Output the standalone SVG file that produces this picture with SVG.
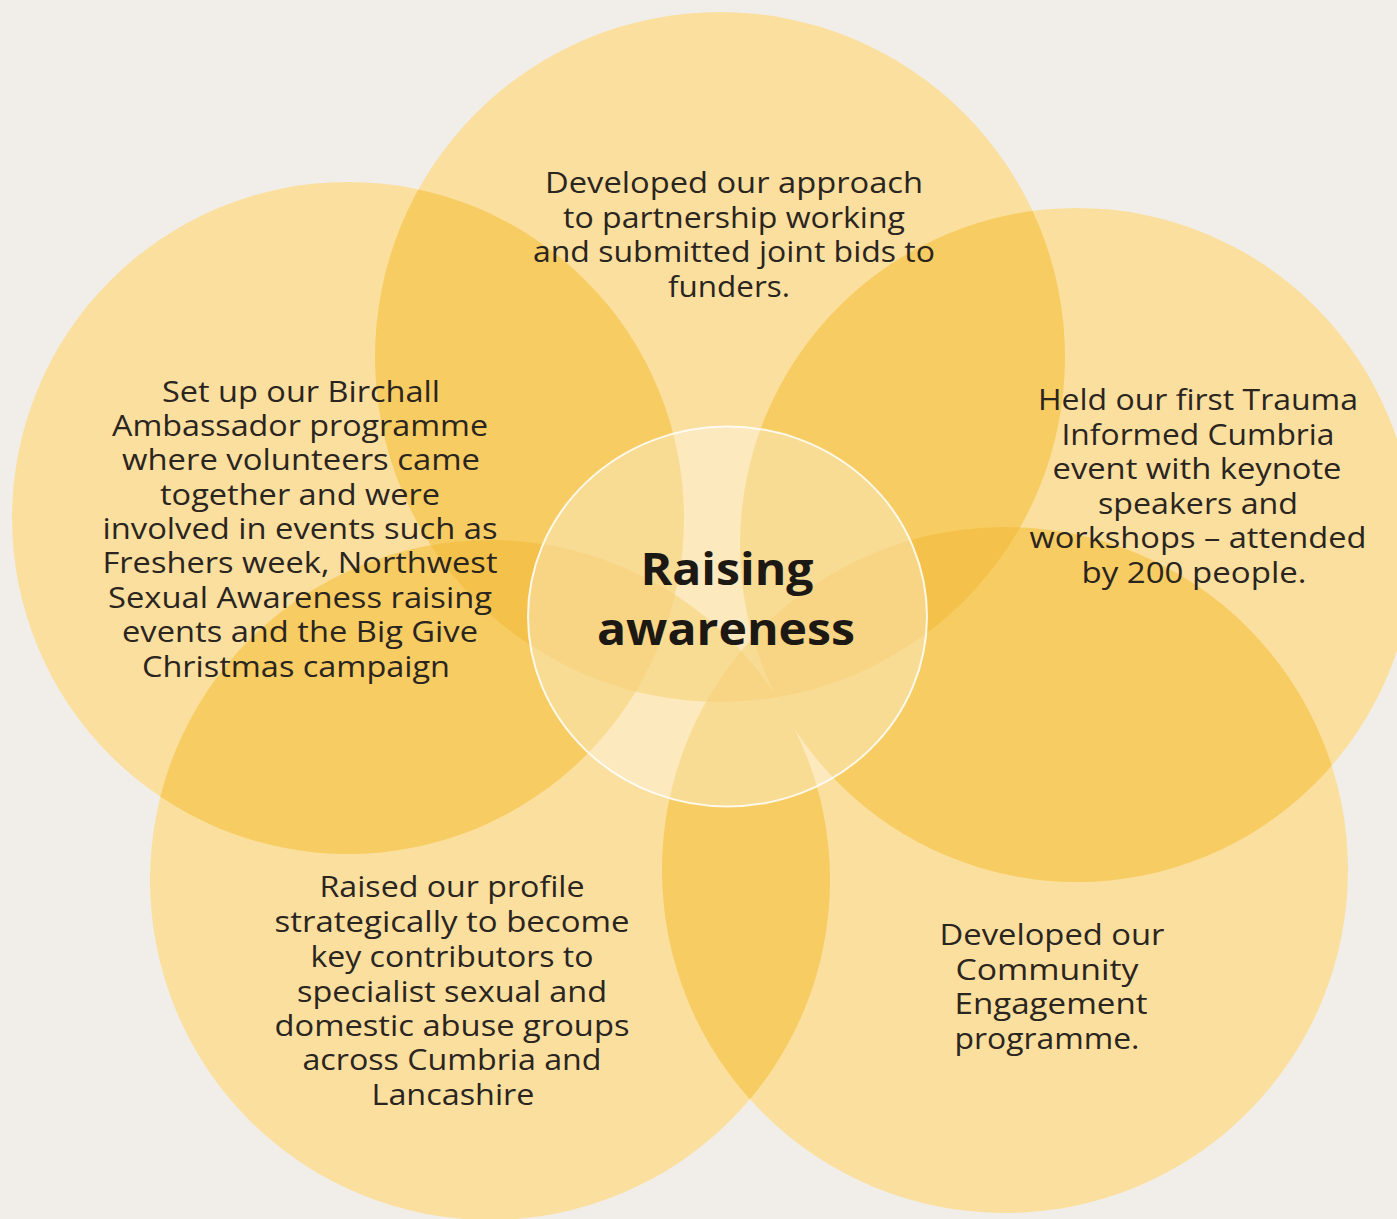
<svg xmlns="http://www.w3.org/2000/svg" width="1397" height="1219" viewBox="0 0 1397 1219">
  <defs>
    <clipPath id="clipT"><circle cx="720" cy="357" r="345"/></clipPath>
    <clipPath id="clipL"><circle cx="348" cy="518" r="336"/></clipPath>
    <clipPath id="clipR"><circle cx="1077" cy="545" r="337"/></clipPath>
    <clipPath id="clipBL"><circle cx="490" cy="880" r="340"/></clipPath>
    <clipPath id="clipBR"><circle cx="1005" cy="870" r="343"/></clipPath>
  </defs>
  <style>
    .petal { fill: #fbdf9e; }
    .two { fill: #f7cc62; }
    .three { fill: #f4c24b; }
    .hub { fill: #ffffff; fill-opacity: 0.32; stroke: #ffffff; stroke-opacity: 0.85; stroke-width: 2; }
    .txt { font-family: "Open Sans", "Liberation Sans", sans-serif; font-size: 29px; fill: #2a251f; text-anchor: middle; }
    .title { font-family: "Open Sans", "Liberation Sans", sans-serif; font-size: 45px; font-weight: 700; fill: #1c1814; text-anchor: middle; }
  </style>
  <rect width="1397" height="1219" fill="#f1eee9"/>

  <!-- five petals -->
  <g id="petal-top"><circle class="petal" cx="720" cy="357" r="345"/></g>
  <g id="petal-left"><circle class="petal" cx="348" cy="518" r="336"/></g>
  <g id="petal-right"><circle class="petal" cx="1077" cy="545" r="337"/></g>
  <g id="petal-bottom-left"><circle class="petal" cx="490" cy="880" r="340"/></g>
  <g id="petal-bottom-right"><circle class="petal" cx="1005" cy="870" r="343"/></g>

  <!-- where two petals overlap -->
  <g id="overlap-two">
    <circle class="two" cx="348" cy="518" r="336" clip-path="url(#clipT)"/>
    <circle class="two" cx="1077" cy="545" r="337" clip-path="url(#clipT)"/>
    <circle class="two" cx="490" cy="880" r="340" clip-path="url(#clipT)"/>
    <circle class="two" cx="1005" cy="870" r="343" clip-path="url(#clipT)"/>
    <circle class="two" cx="490" cy="880" r="340" clip-path="url(#clipL)"/>
    <circle class="two" cx="1005" cy="870" r="343" clip-path="url(#clipR)"/>
    <circle class="two" cx="1005" cy="870" r="343" clip-path="url(#clipBL)"/>
  </g>

  <!-- where three petals overlap -->
  <g id="overlap-three">
    <g clip-path="url(#clipT)"><circle class="three" cx="490" cy="880" r="340" clip-path="url(#clipL)"/></g>
    <g clip-path="url(#clipT)"><circle class="three" cx="1005" cy="870" r="343" clip-path="url(#clipR)"/></g>
    <g clip-path="url(#clipT)"><circle class="three" cx="1005" cy="870" r="343" clip-path="url(#clipBL)"/></g>
  </g>

  <!-- central hub -->
  <g id="hub">
    <ellipse class="hub" cx="727.5" cy="616.5" rx="199.5" ry="190"/>
    <text class="title" x="727" y="585" textLength="173" lengthAdjust="spacingAndGlyphs">Raising</text>
    <text class="title" x="726" y="645" textLength="258" lengthAdjust="spacingAndGlyphs">awareness</text>
  </g>

  <!-- petal labels -->
  <g id="label-top" class="txt">
    <text x="734" y="193" textLength="378" lengthAdjust="spacingAndGlyphs">Developed our approach</text>
    <text x="734" y="228" textLength="342" lengthAdjust="spacingAndGlyphs">to partnership working</text>
    <text x="734" y="262" textLength="402" lengthAdjust="spacingAndGlyphs">and submitted joint bids to</text>
    <text x="729" y="297" textLength="122" lengthAdjust="spacingAndGlyphs">funders.</text>
  </g>

  <g id="label-left" class="txt">
    <text x="301" y="402" textLength="278" lengthAdjust="spacingAndGlyphs">Set up our Birchall</text>
    <text x="300" y="436" textLength="376" lengthAdjust="spacingAndGlyphs">Ambassador programme</text>
    <text x="301" y="470" textLength="358" lengthAdjust="spacingAndGlyphs">where volunteers came</text>
    <text x="300" y="505" textLength="280" lengthAdjust="spacingAndGlyphs">together and were</text>
    <text x="300" y="539" textLength="395" lengthAdjust="spacingAndGlyphs">involved in events such as</text>
    <text x="300" y="573" textLength="395" lengthAdjust="spacingAndGlyphs">Freshers week, Northwest</text>
    <text x="300" y="608" textLength="384" lengthAdjust="spacingAndGlyphs">Sexual Awareness raising</text>
    <text x="300" y="642" textLength="356" lengthAdjust="spacingAndGlyphs">events and the Big Give</text>
    <text x="296" y="677" textLength="308" lengthAdjust="spacingAndGlyphs">Christmas campaign</text>
  </g>

  <g id="label-right" class="txt">
    <text x="1198" y="410" textLength="320" lengthAdjust="spacingAndGlyphs">Held our first Trauma</text>
    <text x="1198" y="445" textLength="273" lengthAdjust="spacingAndGlyphs">Informed Cumbria</text>
    <text x="1197" y="479" textLength="289" lengthAdjust="spacingAndGlyphs">event with keynote</text>
    <text x="1198" y="514" textLength="200" lengthAdjust="spacingAndGlyphs">speakers and</text>
    <text x="1198" y="548" textLength="337" lengthAdjust="spacingAndGlyphs">workshops – attended</text>
    <text x="1194" y="583" textLength="225" lengthAdjust="spacingAndGlyphs">by 200 people.</text>
  </g>

  <g id="label-bottom-left" class="txt">
    <text x="452" y="897" textLength="265" lengthAdjust="spacingAndGlyphs">Raised our profile</text>
    <text x="452" y="932" textLength="355" lengthAdjust="spacingAndGlyphs">strategically to become</text>
    <text x="452" y="967" textLength="283" lengthAdjust="spacingAndGlyphs">key contributors to</text>
    <text x="452" y="1002" textLength="310" lengthAdjust="spacingAndGlyphs">specialist sexual and</text>
    <text x="452" y="1036" textLength="355" lengthAdjust="spacingAndGlyphs">domestic abuse groups</text>
    <text x="452" y="1070" textLength="299" lengthAdjust="spacingAndGlyphs">across Cumbria and</text>
    <text x="453" y="1105" textLength="163" lengthAdjust="spacingAndGlyphs">Lancashire</text>
  </g>

  <g id="label-bottom-right" class="txt">
    <text x="1052" y="945" textLength="225" lengthAdjust="spacingAndGlyphs">Developed our</text>
    <text x="1047" y="980" textLength="183" lengthAdjust="spacingAndGlyphs">Community</text>
    <text x="1051" y="1014" textLength="193" lengthAdjust="spacingAndGlyphs">Engagement</text>
    <text x="1047" y="1049" textLength="185" lengthAdjust="spacingAndGlyphs">programme.</text>
  </g>

  <g id="connectors"/>
</svg>
